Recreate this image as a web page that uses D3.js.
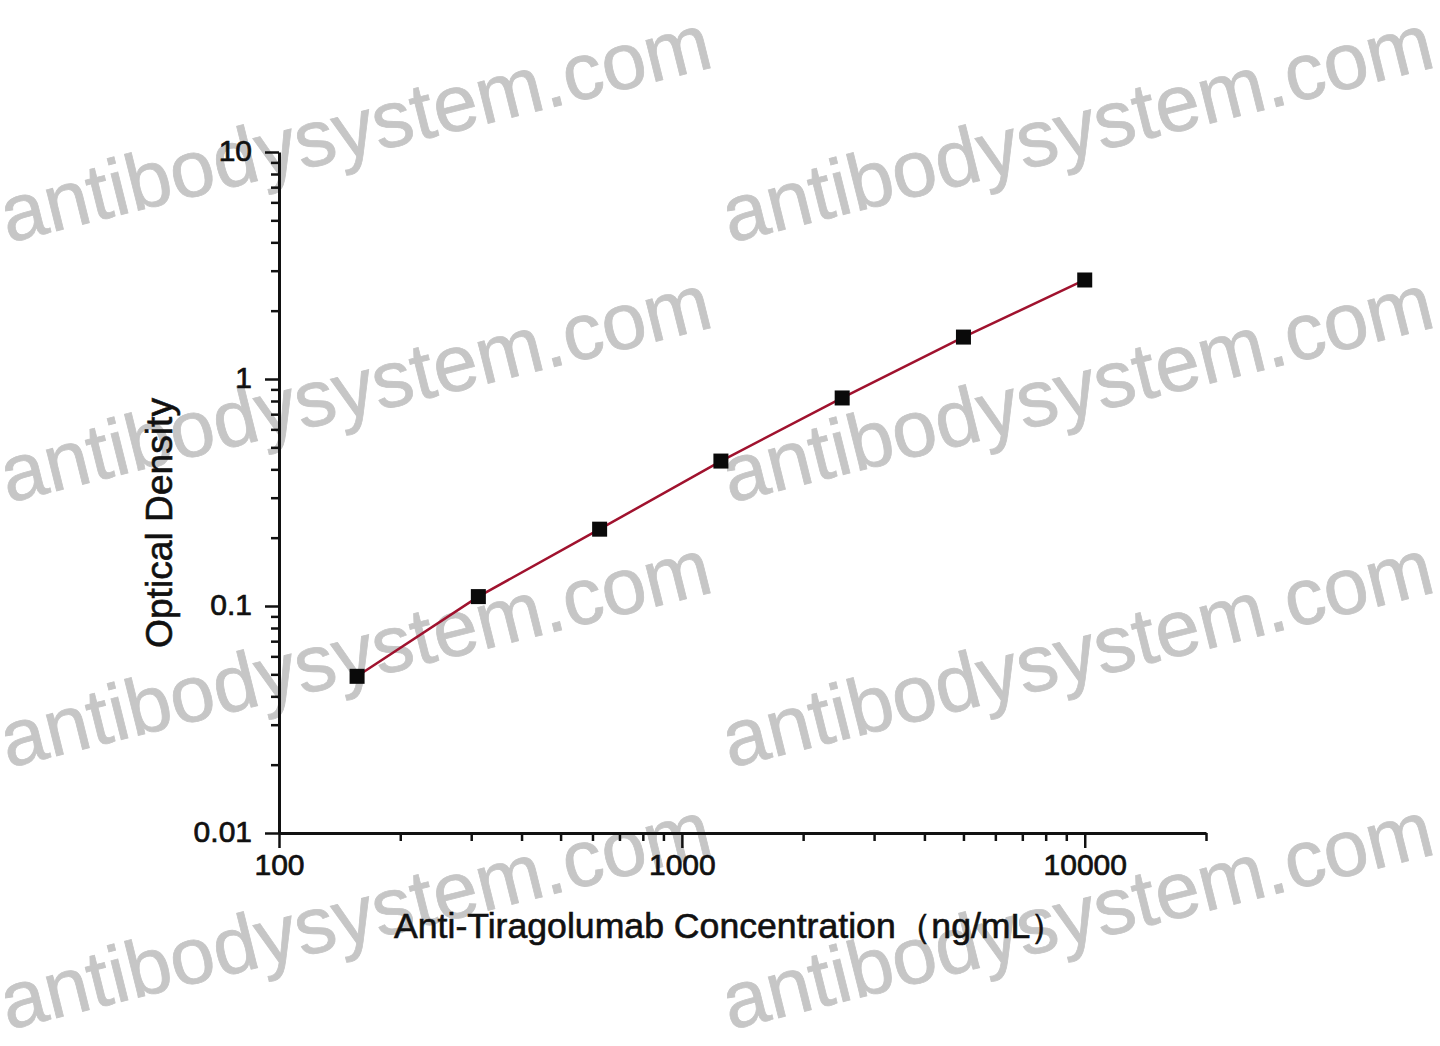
<!DOCTYPE html>
<html>
<head>
<meta charset="utf-8">
<script src="https://cdn.jsdelivr.net/npm/d3@7/dist/d3.min.js"></script>
<style>
  html, body { margin: 0; padding: 0; background: #fff; }
  svg { display: block; }
  text { font-family: "Liberation Sans", Arial, sans-serif; }
</style>
</head>
<body>
<svg id="chart" width="1440" height="1046"></svg>
<script>
// ---- data ----
const concentrations = [156.25, 312.5, 625, 1250, 2500, 5000, 10000];
const odValues = [0.049, 0.110, 0.218, 0.435, 0.825, 1.53, 2.73];
const xMajorTicks = [100, 1000, 10000];
const xTickLabels = ["100", "1000", "10000"];
const yMajorTicks = [0.01, 0.1, 1, 10];
const yTickLabels = ["0.01", "0.1", "1", "10"];
const xTitle = "Anti-Tiragolumab Concentration\uFF08ng/mL\uFF09";
const yTitle = "Optical Density";
const watermark = "antibodysystem.com";

const svg = d3.select("#chart");

// ---- watermark ----
const wm = svg.append("g");
const wmRows = [243, 503, 768, 1030];
const wmCols = [8, 730];
wmRows.forEach(r => wmCols.forEach(c => {
  wm.append("text")
    .attr("transform", `translate(${c},${r}) rotate(-14)`)
    .attr("font-size", 80)
    .attr("fill", "#c6c6c6")
    .attr("stroke", "#c6c6c6")
    .attr("stroke-width", 0.8)
    .text(watermark);
}));

// ---- scales ----
const x = d3.scaleLog().domain([100, 20000]).range([279, 1206]);
const y = d3.scaleLog().domain([0.01, 10]).range([833, 152]);

function minorTicks(lo, hi) {
  const out = [];
  for (let e = Math.log10(lo); e < Math.log10(hi); e++) {
    for (let m = 2; m <= 9; m++) {
      const v = m * Math.pow(10, e);
      if (v <= hi * 1.0001) out.push(v);
    }
  }
  return out;
}

const axisColor = "#111";

// x axis minor
svg.append("g")
  .attr("transform", "translate(0,833)")
  .call(d3.axisBottom(x).tickValues(minorTicks(100, 20000)).tickSize(8).tickSizeOuter(0).tickFormat(""))
  .call(g => g.select(".domain").attr("stroke-width", 3).attr("stroke", axisColor))
  .call(g => g.selectAll(".tick line").attr("stroke-width", 2.5).attr("stroke", axisColor));

// x axis major
svg.append("g")
  .attr("transform", "translate(0,833)")
  .call(d3.axisBottom(x).tickValues(xMajorTicks).tickSize(15).tickSizeOuter(0).tickPadding(6)
        .tickFormat((d, i) => xTickLabels[i]))
  .call(g => g.select(".domain").remove())
  .call(g => g.selectAll(".tick line").attr("stroke-width", 2.5).attr("stroke", axisColor))
  .call(g => g.selectAll(".tick text").attr("font-size", 30).attr("fill", "#111")
        .attr("stroke", "#111").attr("stroke-width", 0.7)
        .attr("font-family", "Liberation Sans, Arial, sans-serif"));

// y axis minor
svg.append("g")
  .attr("transform", "translate(279,0)")
  .call(d3.axisLeft(y).tickValues(minorTicks(0.01, 10)).tickSize(8).tickSizeOuter(0).tickFormat(""))
  .call(g => g.select(".domain").attr("stroke-width", 3).attr("stroke", axisColor))
  .call(g => g.selectAll(".tick line").attr("stroke-width", 2.5).attr("stroke", axisColor));

// y axis major
svg.append("g")
  .attr("transform", "translate(279,0)")
  .call(d3.axisLeft(y).tickValues(yMajorTicks).tickSize(14).tickSizeOuter(0).tickPadding(13)
        .tickFormat((d, i) => yTickLabels[i]))
  .call(g => g.select(".domain").remove())
  .call(g => g.selectAll(".tick line").attr("stroke-width", 2.5).attr("stroke", axisColor))
  .call(g => g.selectAll(".tick text").attr("font-size", 30).attr("fill", "#111")
        .attr("stroke", "#111").attr("stroke-width", 0.7)
        .attr("dy", "0.28em")
        .attr("font-family", "Liberation Sans, Arial, sans-serif"));

// ---- line ----
const line = d3.line().x((d, i) => x(concentrations[i])).y(d => y(d));
svg.append("path")
  .datum(odValues)
  .attr("d", line)
  .attr("fill", "none")
  .attr("stroke", "#a0122e")
  .attr("stroke-width", 2.5);

// ---- markers ----
const ms = 15;
svg.append("g").selectAll("rect")
  .data(odValues)
  .join("rect")
  .attr("x", (d, i) => x(concentrations[i]) - ms / 2)
  .attr("y", d => y(d) - ms / 2)
  .attr("width", ms)
  .attr("height", ms)
  .attr("fill", "#0a0a0a");

// ---- titles ----
svg.append("text")
  .attr("x", 730).attr("y", 938)
  .attr("text-anchor", "middle")
  .attr("font-size", 35)
  .attr("fill", "#111")
  .attr("stroke", "#111").attr("stroke-width", 0.6)
  .attr("textLength", 672)
  .attr("lengthAdjust", "spacingAndGlyphs")
  .text(xTitle);

svg.append("text")
  .attr("transform", "translate(172,523) rotate(-90)")
  .attr("text-anchor", "middle")
  .attr("font-size", 36)
  .attr("fill", "#111")
  .attr("stroke", "#111").attr("stroke-width", 0.6)
  .attr("textLength", 250)
  .attr("lengthAdjust", "spacingAndGlyphs")
  .text(yTitle);
</script>
</body>
</html>
